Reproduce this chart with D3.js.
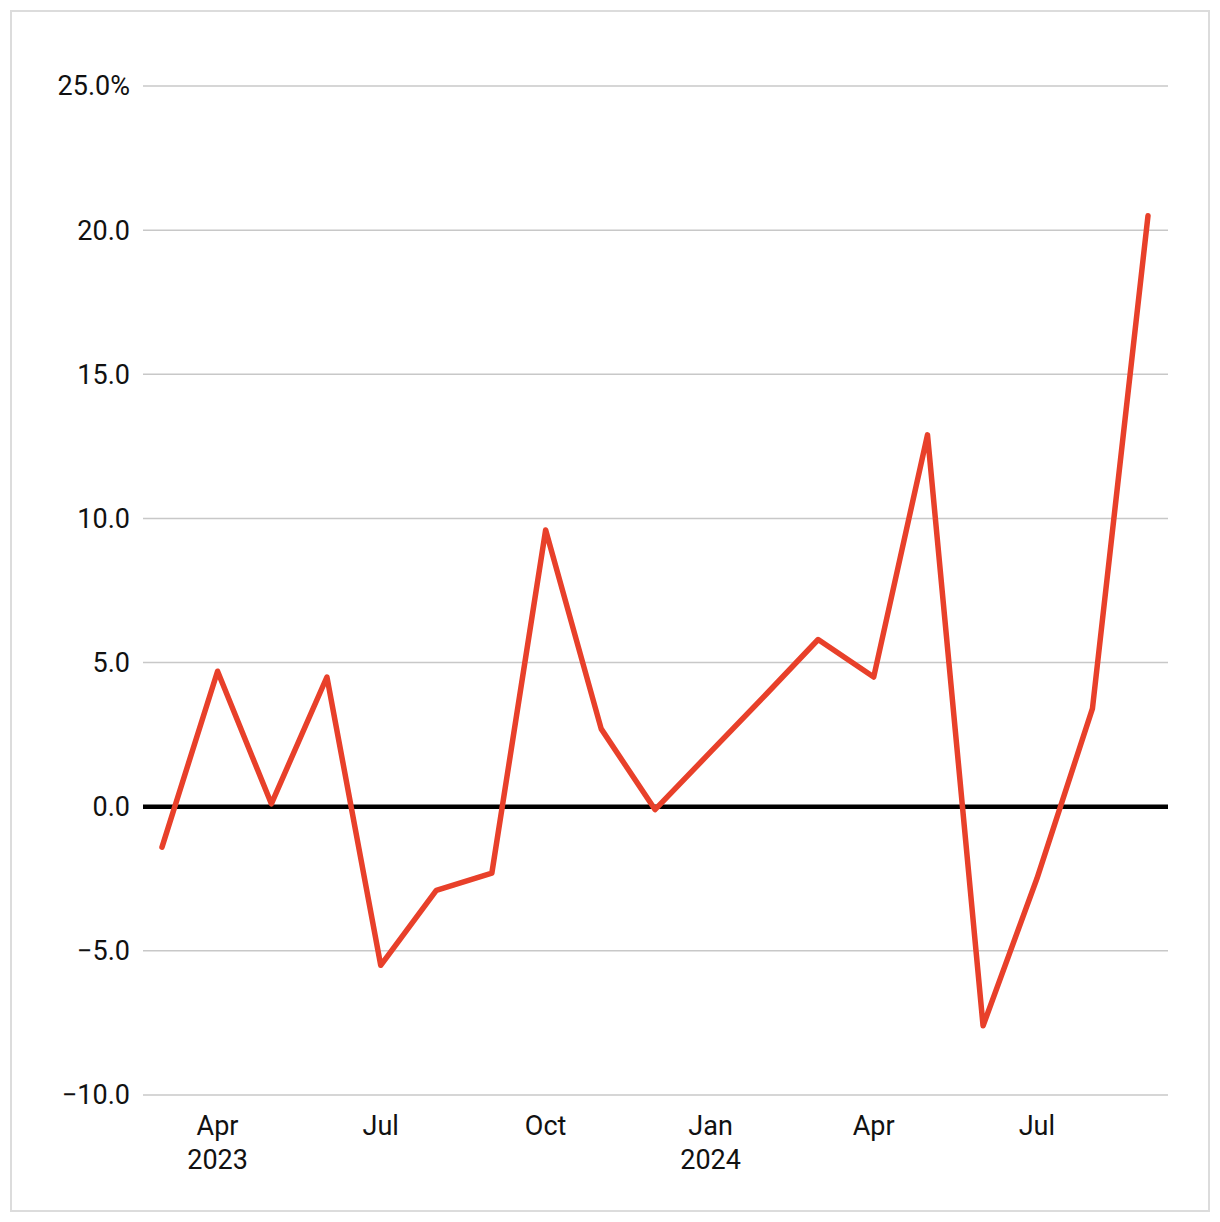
<!DOCTYPE html>
<html><head><meta charset="utf-8">
<script src="https://cdn.jsdelivr.net/npm/d3@7"></script>
<style>
body{margin:0;background:#fff;}
svg text{font-family:"Roboto","Noto Sans",sans-serif;fill:#111;}
</style></head>
<body>
<svg id="chart" width="1220" height="1222"></svg>
<script>
const months = ["2023-03","2023-04","2023-05","2023-06","2023-07","2023-08","2023-09","2023-10","2023-11","2023-12","2024-01","2024-02","2024-03","2024-04","2024-05","2024-06","2024-07","2024-08","2024-09"];
const values = [-1.4,4.7,0.1,4.5,-5.5,-2.9,-2.3,9.6,2.7,-0.1,1.9,3.9,5.8,4.5,12.9,-7.6,-2.5,3.4,20.5];
const yTicks = [-10,-5,0,5,10,15,20,25];
const xTickMonths = ["2023-04","2023-07","2023-10","2024-01","2024-04","2024-07"];
const xTickLabels = [["Apr","2023"],["Jul"],["Oct"],["Jan","2024"],["Apr"],["Jul"]];

const parse = d3.timeParse("%Y-%m");
const data = months.map((m,i)=>({date:parse(m), v:values[i]}));

const svg = d3.select("#chart");
svg.append("rect").attr("x",11).attr("y",11).attr("width",1198).attr("height",1200)
  .attr("fill","#fff").attr("stroke","#dcdcdc").attr("stroke-width",2);

const x = d3.scaleTime().domain([parse("2023-03"), parse("2024-09")]).range([162,1148]);
const y = d3.scaleLinear().domain([-10,25]).range([1095,86]);
const gridX0 = 143, gridX1 = 1168;

const gy = svg.append("g");
yTicks.forEach(t=>{
  gy.append("line").attr("x1",gridX0).attr("x2",gridX1).attr("y1",y(t)).attr("y2",y(t))
    .attr("stroke", t===0 ? "#000" : "#c8c8c8").attr("stroke-width", t===0 ? 4.5 : 1.5);
  const lbl = (t<0 ? "\u2212" + d3.format(".1f")(-t) : d3.format(".1f")(t)) + (t===25 ? "%" : "");
  gy.append("text").attr("x",130).attr("y",y(t)).attr("dy","0.35em")
    .attr("text-anchor","end").attr("font-size",27).text(lbl);
});

const gx = svg.append("g");
xTickMonths.forEach((m,i)=>{
  const xx = x(parse(m));
  xTickLabels[i].forEach((s,j)=>{
    gx.append("text").attr("x",xx).attr("y",1135 + j*34).attr("text-anchor","middle")
      .attr("font-size",27).text(s);
  });
});

const line = d3.line().x(d=>x(d.date)).y(d=>y(d.v));
svg.append("path").datum(data).attr("d",line).attr("fill","none")
  .attr("stroke","#e8402a").attr("stroke-width",5.5).attr("stroke-linejoin","round").attr("stroke-linecap","round");
</script>
</body></html>
